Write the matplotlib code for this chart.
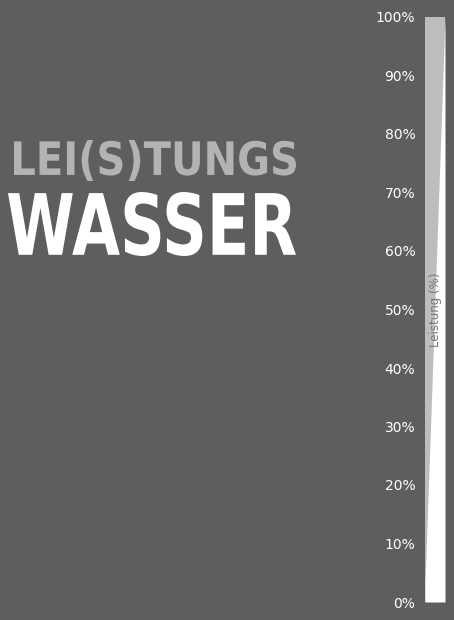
import matplotlib
matplotlib.use("Agg")
import matplotlib.pyplot as plt
from matplotlib.textpath import TextPath
from matplotlib.font_manager import FontProperties
from matplotlib.patches import PathPatch
from matplotlib.transforms import Affine2D

ticks = [0, 10, 20, 30, 40, 50, 60, 70, 80, 90, 100]
tick_labels = [f"{t}%" for t in ticks]
edge_pos = [0, 1]          # left / right edge of the bar
edge_level = [3, 100]      # Leistung (%) along the boundary
title1 = "LEI(S)TUNGS"
title2 = "WASSER"

BG = "#5e5e5e"
fig = plt.figure(figsize=(4.54, 6.2), dpi=100, facecolor=BG)

# canvas for titles
cv = fig.add_axes([0, 0, 1, 1])
cv.set_xlim(0, 454); cv.set_ylim(620, 0); cv.axis("off")
fp = FontProperties(family="DejaVu Sans", weight="bold")

def draw_text(s, x0, x1, ytop, ybot, color):
    tp = TextPath((0, 0), s, size=100, prop=fp)
    ext = tp.get_extents()
    sx = (x1 - x0) / ext.width
    sy = (ybot - ytop) / ext.height
    tr = Affine2D().translate(-ext.x0, -ext.y0).scale(sx, -sy).translate(x0, ybot)
    cv.add_patch(PathPatch(tr.transform_path(tp), fc=color, ec="none"))

draw_text(title1, 14, 296, 140, 181, "#b3b3b3")
draw_text(title2, 8, 296, 192, 256, "white")

# bar axes
ax = fig.add_axes([425/454, 1 - 602/620, 20/454, (602 - 17)/620])
ax.set_facecolor("#bdbdbd")
ax.set_xlim(0, 1); ax.set_ylim(0, 100)
ax.fill_between(edge_pos, edge_level, 0, color="white", lw=0)
for s in ax.spines.values():
    s.set_visible(False)
ax.set_xticks([])
ax.set_yticks(ticks)
ax.set_yticklabels(tick_labels, color="white", fontsize=10)
ax.tick_params(axis="y", length=0, pad=7)
ax.text(0.5, 50, "Leistung (%)", rotation=90, ha="center", va="center",
        color="#777777", fontsize=8.5)
fig.savefig("out.png", facecolor=BG)
